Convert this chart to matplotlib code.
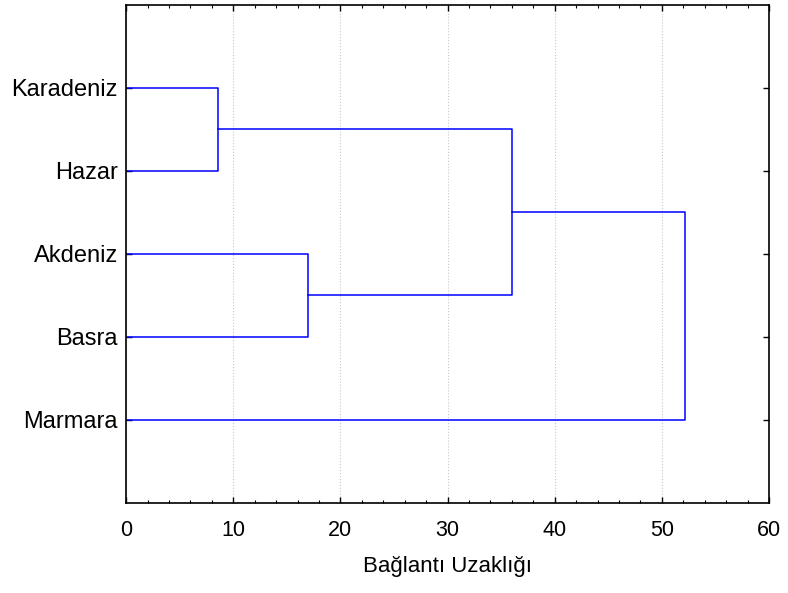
import matplotlib
matplotlib.use("Agg")
import matplotlib.pyplot as plt
from matplotlib.ticker import MultipleLocator

plt.rcParams['font.family'] = ['Liberation Sans', 'DejaVu Sans']

leaves = ['Karadeniz', 'Hazar', 'Akdeniz', 'Basra', 'Marmara']
# merges: (left node, right node, linkage distance); new nodes get ids 5, 6, ...
merges = [(0, 1, 8.6), (2, 3, 17.0), (5, 6, 36.0), (7, 4, 52.2)]

fig = plt.figure(figsize=(7.88, 5.93), dpi=100)
ax = fig.add_axes([0.160, 0.152, 0.816, 0.840])

pos = {i: (0.0, i + 1) for i in range(len(leaves))}
for k, (a, b, d) in enumerate(merges):
    xa, ya = pos[a]
    xb, yb = pos[b]
    ax.plot([xa, d, d, xb], [ya, ya, yb, yb], color='#0000ff', lw=1.1)
    pos[len(leaves) + k] = (d, (ya + yb) / 2)

ax.set_xlim(0, 60)
ax.set_ylim(6, 0)
ax.xaxis.set_major_locator(MultipleLocator(10))
ax.xaxis.set_minor_locator(MultipleLocator(2))
ax.set_yticks(range(1, len(leaves) + 1))
ax.set_yticklabels(leaves)
ax.tick_params(axis='both', which='both', direction='in', top=True, right=True)
ax.tick_params(axis='both', which='major', length=4, width=1)
ax.tick_params(axis='x', which='minor', length=2.5, width=0.8)
ax.tick_params(axis='x', pad=12, labelsize=15.5)
ax.tick_params(axis='y', pad=6, labelsize=17)
ax.grid(axis='x', which='major', color='#c8c8c8', ls=':', lw=0.8)
ax.set_axisbelow(True)
for s in ax.spines.values():
    s.set_linewidth(1.2)
ax.set_xlabel('Bağlantı Uzaklığı', fontsize=16, labelpad=11)

fig.savefig('out.png', dpi=100)
